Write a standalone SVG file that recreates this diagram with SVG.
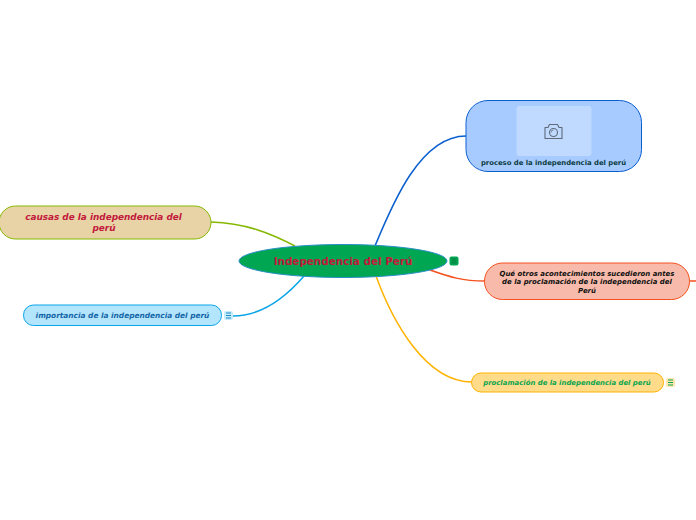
<svg xmlns="http://www.w3.org/2000/svg" width="696" height="520" viewBox="0 0 696 520">
<style>
text{font-family:"DejaVu Sans",Verdana,sans-serif;font-weight:bold;text-anchor:middle}
.i{font-style:italic}
.c{fill:none;stroke-width:1.5}
.m{stroke-width:1;fill:none}
</style>
<rect width="696" height="520" fill="#fff"/>
<g id="connectors">
<path class="c" stroke="#0a5fd0" d="M375 246C392 205 420 136 466 136"/>
<path class="c" stroke="#f4511e" d="M430 270C450 277 462 281 485 281"/>
<path class="c" stroke="#ffb300" d="M376 276C392 320 425 382 472 382"/>
<path class="c" stroke="#84b800" d="M295 246C270 233 245 223 211 222"/>
<path class="c" stroke="#0aa5e8" d="M304 276C285 298 262 316 233 316"/>
<path class="c" stroke="#f4511e" d="M690 281H696"/>
</g>
<g id="node-root">
<ellipse cx="343" cy="261" rx="104" ry="16.500" fill="#00a651" stroke="#2a8fc8" stroke-width="1"/>
<text x="343" y="265" font-size="10.400" fill="#c2183c">Independencia del Perú</text>
<rect x="449.500" y="256.500" width="9" height="9" rx="2" fill="#00a651"/>
<path class="m" stroke="#0b7a40" d="M451.500 259H456.500M451.500 261H456.500M451.500 263H456.500"/>
</g>
<g id="node-proceso">
<rect x="466" y="100.500" width="175.500" height="71" rx="22" fill="#a8cbff" stroke="#0a5fd0" stroke-width="1"/>
<rect x="516.500" y="106" width="75" height="50" rx="3" fill="#bfd9ff"/>
<g fill="none" stroke="#5f6b7a" stroke-width="1.100">
<path d="M545 127.500h3l1.500-3h8l1.500 3h3v11h-17z" stroke-linejoin="round"/>
<circle cx="553.500" cy="132.500" r="4"/>
<path d="M551 132.500a2.500 2.500 0 0 1 2.500-2.500" stroke-width="0.800"/>
</g>
<text x="553.500" y="165" font-size="6.850" fill="#0b3b3f">proceso de la independencia del perú</text>
</g>
<g id="node-otros">
<rect x="484.500" y="263" width="205" height="36.500" rx="18" fill="#f8bbab" stroke="#f4511e" stroke-width="1"/>
<text class="i" x="587" y="276" font-size="6.950" fill="#111">Qué otros acontecimientos sucedieron antes</text>
<text class="i" x="587" y="284" font-size="6.950" fill="#111">de la proclamación de la independencia del</text>
<text class="i" x="587" y="293" font-size="6.950" fill="#111">Perú</text>
</g>
<g id="node-proclamacion">
<rect x="471.500" y="373" width="192" height="19" rx="9.500" fill="#ffdb8a" stroke="#ffb300" stroke-width="1"/>
<text class="i" x="567" y="385" font-size="6.900" fill="#0aa550">proclamación de la independencia del perú</text>
<rect x="666" y="378" width="9" height="9" rx="2" fill="#ffe7ae"/>
<path class="m" stroke="#0aa550" d="M668 380H673M668 382.500H673M668 385H673"/>
</g>
<g id="node-causas">
<rect x="-1" y="206" width="212" height="33" rx="16.500" fill="#e8d3a6" stroke="#84b800" stroke-width="1"/>
<text class="i" x="103.500" y="220" font-size="8.900" fill="#c2183c">causas de la independencia del</text>
<text class="i" x="104" y="231" font-size="8.900" fill="#c2183c">perú</text>
</g>
<g id="node-importancia">
<rect x="23.500" y="305" width="198" height="20.500" rx="10" fill="#b3e5fc" stroke="#0aa5e8" stroke-width="1"/>
<text class="i" x="122.500" y="318" font-size="7.400" fill="#1565a8">importancia de la independencia del perú</text>
<rect x="224" y="311" width="9" height="9" rx="2" fill="#c4ecfd"/>
<path class="m" stroke="#1f8ac0" d="M226 313H231M226 315.500H231M226 318H231"/>
</g>
</svg>
